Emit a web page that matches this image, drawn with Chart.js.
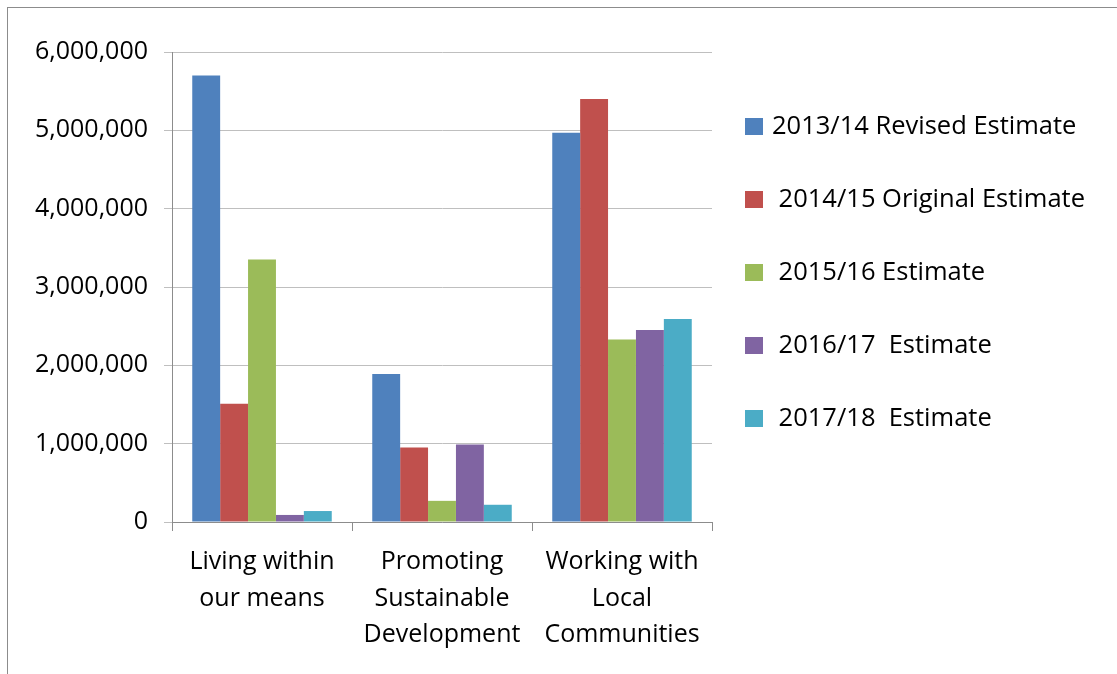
<!DOCTYPE html>
<html>
<head>
<meta charset="utf-8">
<script src="https://cdn.jsdelivr.net/npm/chart.js@4/dist/chart.umd.min.js"></script>
<style>
    html, body { margin: 0; padding: 0; background: #fff; overflow: hidden; }
    #wrap { position: relative; width: 1117px; height: 674px; }
</style>
</head>
<body>
<div id="wrap"><canvas id="budgetChart"></canvas></div>
<script>
// Данные графика
const categories = [
    ['Living within', 'our means'],
    ['Promoting', 'Sustainable', 'Development'],
    ['Working with', 'Local', 'Communities']
];
const seriesNames = [
    '2013/14 Revised Estimate',
    ' 2014/15 Original Estimate',
    ' 2015/16 Estimate',
    ' 2016/17  Estimate',
    ' 2017/18  Estimate'
];
const revised1314 = [5700000, 1890000, 4970000];
const original1415 = [1510000, 950000, 5400000];
const estimate1516 = [3350000, 270000, 2330000];
const estimate1617 = [90000, 990000, 2450000];
const estimate1718 = [140000, 220000, 2590000];
const yTicks = [0, 1000000, 2000000, 3000000, 4000000, 5000000, 6000000];

const seriesColors = ['#4F81BD', '#C0504D', '#9BBB59', '#8064A2', '#4BACC6'];
const seriesValues = [revised1314, original1415, estimate1516, estimate1617, estimate1718];

const FONT = '"Open Sans", "DejaVu Sans", sans-serif';

// Рамка вокруг диаграммы (как в Excel)
const framePlugin = {
    id: 'frame',
    beforeDraw(chart) {
        const ctx = chart.ctx;
        ctx.save();
        ctx.strokeStyle = '#8C8C8C';
        ctx.lineWidth = 1;
        ctx.strokeRect(7.5, 7.5, 1300, 900);
        ctx.restore();
    }
};

// Легенда справа, с большим шагом между строками
const sideLegend = {
    id: 'sideLegend',
    afterDraw(chart) {
        const ctx = chart.ctx;
        ctx.save();
        ctx.font = '25.5px ' + FONT;
        ctx.textBaseline = 'middle';
        ctx.fillStyle = '#000';
        chart.data.datasets.forEach((ds, i) => {
            const cy = 126 + i * 73;
            ctx.fillStyle = ds.backgroundColor;
            ctx.fillRect(745, cy - 8, 18, 17);
            ctx.fillStyle = '#000';
            ctx.fillText(ds.label, 772, cy + 1);
        });
        ctx.restore();
    }
};

document.addEventListener('DOMContentLoaded', () => {
    const ctx = document.getElementById('budgetChart').getContext('2d');

    new Chart(ctx, {
        type: 'bar',
        data: {
            labels: categories,
            datasets: seriesNames.map((name, i) => ({
                label: name,
                data: seriesValues[i],
                backgroundColor: seriesColors[i],
                borderWidth: 0,
                categoryPercentage: 0.775,
                barPercentage: 1.0
            }))
        },
        options: {
            responsive: true,
            maintainAspectRatio: false,
            animation: false,
            devicePixelRatio: 1,
            layout: {
                padding: { top: 52, left: 35, right: 405, bottom: 0 }
            },
            plugins: {
                legend: { display: false },
                tooltip: { enabled: false }
            },
            scales: {
                x: {
                    afterFit: (scale) => { scale.height = 152; },
                    grid: {
                        offset: true,
                        drawOnChartArea: false,
                        drawTicks: true,
                        tickLength: 9,
                        color: '#8C8C8C'
                    },
                    border: { color: '#8C8C8C', width: 1 },
                    ticks: {
                        color: '#000',
                        padding: 13,
                        maxRotation: 0,
                        autoSkip: false,
                        font: { family: FONT, size: 25, lineHeight: 1.46 }
                    }
                },
                y: {
                    min: 0,
                    max: 6000000,
                    afterFit: (scale) => { scale.width = 137; },
                    afterBuildTicks: (scale) => {
                        scale.ticks = yTicks.map(v => ({ value: v }));
                    },
                    grid: {
                        color: '#BFBFBF',
                        tickLength: 8,
                        drawTicks: true
                    },
                    border: { color: '#8C8C8C', width: 1 },
                    ticks: {
                        color: '#000',
                        padding: 16,
                        font: { family: FONT, size: 25 },
                        callback: (v) => Number(v).toLocaleString('en-US')
                    }
                }
            }
        },
        plugins: [framePlugin, sideLegend]
    });
});
</script>
</body>
</html>
